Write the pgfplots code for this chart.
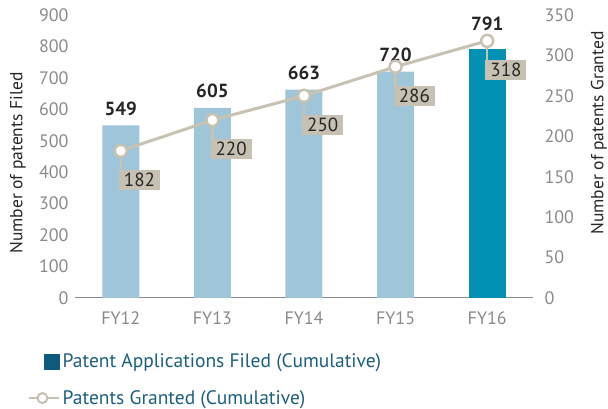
\documentclass[border=0pt]{standalone}
\usepackage{fontspec}
\setmainfont{PT Sans}
\usepackage{pgfplots}
\pgfplotsset{compat=1.18}

\definecolor{barlight}{HTML}{9FC5D9}
\definecolor{bardark}{HTML}{0091B5}
\definecolor{linec}{HTML}{C8C2B3}
\definecolor{boxc}{HTML}{C6C1B2}
\definecolor{tickc}{HTML}{8A8A8A}
\definecolor{legc}{HTML}{1D5F7E}
\definecolor{legsq}{HTML}{0D5A7D}

\tikzset{ylab/.style={font=\fontsize{17.5}{20}\selectfont, text=black!85, anchor=center, rotate=90}}
\pgfplotsset{
  base/.style={
    width=458pt, height=283pt, scale only axis,
    xmin=-0.5, xmax=4.5, ymin=0,
    major tick length=0pt,
    /pgf/number format/assume math mode=true,
    ticklabel style={font=\fontsize{18}{20}\selectfont, text=tickc},
  },
}

\pgfplotstableread{
x y dy
0 549 6
1 605 6
2 663 6
3 720 6
}\filed
\pgfplotstableread{
x y dy
4 791 15
}\filedlast
\pgfplotstableread{
x y
0 182
1 220
2 250
3 286
4 318
}\granted

\begin{document}
\begin{tikzpicture}
\useasboundingbox (-75pt,-111pt) rectangle (533pt,298pt);

% bars: applications filed (left axis)
\begin{axis}[
  base,
  ymax=900,
  axis x line*=bottom, axis y line*=left,
  x axis line style={draw=tickc, line width=1pt, -},
  y axis line style={draw=none},
  xtick={0,1,2,3,4},
  xticklabels={FY12,FY13,FY14,FY15,FY16},
  xticklabel style={yshift=-10pt},
  ytick={0,100,...,900},
  yticklabel style={xshift=-3pt},
  ylabel={Number of patents Filed},
  every axis y label/.style={at={(axis description cs:-0.1245,0.477)}, ylab},
  visualization depends on={\thisrow{dy} \as \dy},
  nodes near coords,
  every node near coord/.append style={font=\bfseries\fontsize{19}{20}\selectfont, text=black!85, yshift=\dy pt},
]
\addplot[ybar, bar width=37pt, bar shift=0pt, fill=barlight, draw=none] table[x=x, y=y] {\filed};
\addplot[ybar, bar width=37pt, bar shift=0pt, fill=bardark, draw=none] table[x=x, y=y] {\filedlast};
\end{axis}

% line: patents granted (right axis)
\begin{axis}[
  base,
  ymax=350,
  axis x line=none, axis y line*=right,
  y axis line style={draw=none},
  ytick={0,50,...,350},
  yticklabel style={xshift=8pt},
  ylabel={Number of patents Granted},
  every axis y label/.style={at={(axis description cs:1.144,0.583)}, ylab},
  legend style={at={(axis description cs:-0.1026,-0.19)}, anchor=north west,
    draw=none, fill=none, inner sep=0pt, row sep=17pt,
    font=\fontsize{19.5}{21}\selectfont, text=legc,
    /tikz/every odd column/.append style={column sep=0pt}},
  legend cell align=left,
]
\addlegendimage{legend image code/.code={\fill[legsq] (15pt,-7.5pt) rectangle (30pt,7.5pt);}}
\addlegendentry{Patent Applications Filed (Cumulative)}
\addplot[linec, line width=3pt, mark=*, mark size=6pt,
  mark options={fill=white, draw=linec, line width=2.5pt},
  error bars/.cd, y dir=minus, y fixed=24, error mark=none,
  error bar style={linec, line width=2.5pt},
  /pgfplots/.cd,
  legend image code/.code={
    \draw[linec, line width=2.5pt] (0pt,0pt) -- (30pt,0pt);
    \draw[linec, fill=white, line width=2pt] (13pt,0pt) circle (5pt);}]
  table[x=x, y=y] {\granted};
\addlegendentry{Patents Granted (Cumulative)}
\end{axis}

% value boxes for the granted series, on top of everything
\begin{axis}[
  base, ymax=350, hide axis,
  nodes near coords,
  every node near coord/.style={anchor=north west, fill=boxc, text=black!85,
    font=\fontsize{19}{20}\selectfont, inner xsep=5pt, inner ysep=3pt,
    xshift=-2pt, yshift=-19pt},
]
\addplot[draw=none, mark=none] table[x=x, y=y] {\granted};
\end{axis}
\end{tikzpicture}
\end{document}
